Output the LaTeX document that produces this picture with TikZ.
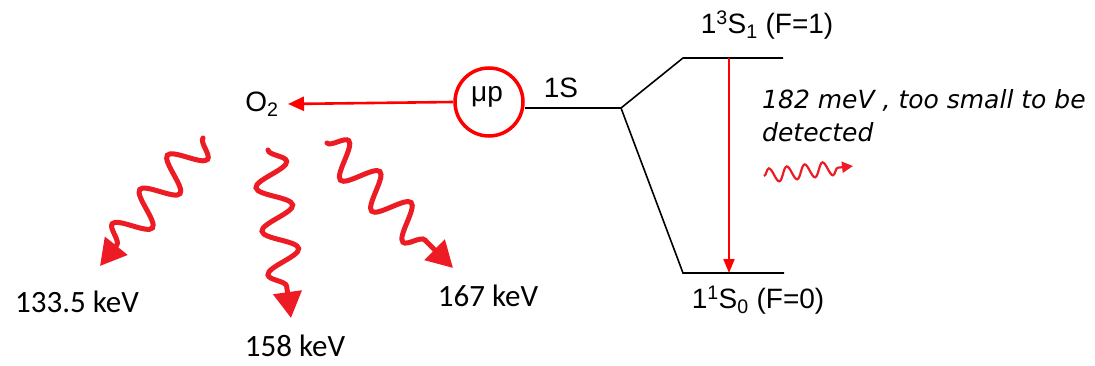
\documentclass[tikz,border=0pt]{standalone}
\usepackage{fontspec}
\setmainfont{Liberation Sans}
\newfontfamily\calfont{Carlito}
\newfontfamily\comicfont{DejaVu Sans}
\usetikzlibrary{arrows.meta,decorations.pathmorphing}
\definecolor{wred}{HTML}{ED1C24}
\begin{document}
\begin{tikzpicture}[x=1pt,y=-1pt,
  lvl/.style={line width=1.6pt,black},
  arial/.style={font=\fontsize{28}{30}\selectfont,inner sep=0pt},
  cal/.style={font=\calfont\fontsize{31}{34}\selectfont,inner sep=0pt},
  photon/.style={wred,line width=5pt,line cap=round,decorate,
     decoration={snake,segment length=44pt,amplitude=17pt,post length=20pt},
     -{Triangle[length=26pt,width=28pt]}},
  redarrow/.style={red,line width=2.6pt,-{Triangle[length=16pt,width=14pt]}}]
\useasboundingbox (0,0) rectangle (1095,366);
% mu p circle
\node[draw=red,line width=3.5pt,circle,minimum size=68pt,inner sep=0pt] (mup) at (489,102) {};
\node[arial] (mupt) at (487,97) {μp};
\node[arial] (o2) at (262,104) {O\textsubscript{2}};
\coordinate (o2tip) at (288,104);
\draw[redarrow] (mup.west) -- (o2tip);
% levels
\coordinate (split) at (621,108);
\coordinate (up1) at (683,58);
\coordinate (up2) at (783,58);
\coordinate (lo1) at (683,273);
\coordinate (lo2) at (784,273);
\draw[lvl] (mup.east |- split) -- (split);
\draw[lvl] (split) -- (up1) -- (up2);
\draw[lvl] (split) -- (lo1) -- (lo2);
\node[arial] (s1) at (561,88) {1S};
\node[arial] (tl) at (767,25) {1\textsuperscript{3}S\textsubscript{1} (F=1)};
\node[arial] (bl) at (758,300) {1\textsuperscript{1}S\textsubscript{0} (F=0)};
\coordinate (va) at (729,58);
\coordinate (vb) at (729,273);
\draw[red,line width=2pt,-{Triangle[length=14pt,width=11pt]}] (va) -- (vb);
% comment
\node[font=\comicfont\itshape\fontsize{25}{33}\selectfont,inner sep=0pt,anchor=north west,align=left] (note) at (762,89) {182 meV , too small to be\\detected};
\coordinate (sw1) at (764,176);
\coordinate (sw2) at (853,166);
\draw[wred,line width=2.2pt,decorate,decoration={snake,segment length=18pt,amplitude=7pt,post length=10pt},-{Triangle[length=11pt,width=11pt]}] (sw1) -- (sw2);
% photons
\coordinate (p1s) at (203,138);
\coordinate (p1e) at (100,266);
\coordinate (p2s) at (268,150);
\coordinate (p2e) at (291,318);
\coordinate (p3s) at (327,143);
\coordinate (p3e) at (453,268);
\draw[photon] (p1s) -- (p1e);
\draw[photon] (p2s) -- (p2e);
\draw[photon] (p3s) -- (p3e);
\node[cal] (e1) at (77,302) {133.5 keV};
\node[cal] (e2) at (295,346) {158 keV};
\node[cal] (e3) at (488,296) {167 keV};
\end{tikzpicture}
\end{document}
